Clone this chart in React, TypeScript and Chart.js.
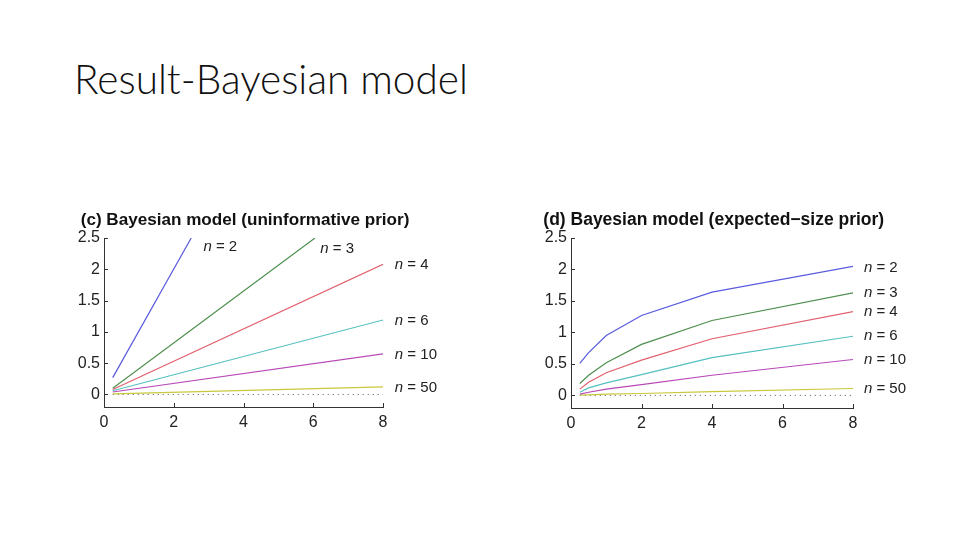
import React, { useRef, useEffect } from 'react';
import { Chart, registerables } from 'chart.js';

Chart.register(...registerables);

// shared axis ticks and curve labels
const X_TICKS = [0, 2, 4, 6, 8];
const Y_TICKS = [0, 0.5, 1, 1.5, 2, 2.5];
const N_VALUES = ['2', '3', '4', '6', '10', '50'];
const LINE_COLORS = ['#5a5ae0', '#4f8f4f', '#e2606e', '#55c0c0', '#b848b8', '#c8c83c'];
const ZERO_LINE = [[0.25, 0], [8, 0]];

// (c) uninformative prior: straight lines, the steep ones leave through the top
const C_N2 = [[0.25, 0.27], [2.5, 2.5]];
const C_N3 = [[0.25, 0.1], [6.05, 2.5]];
const C_N4 = [[0.25, 0.08], [8, 2.08]];
const C_N6 = [[0.25, 0.06], [8, 1.19]];
const C_N10 = [[0.25, 0.04], [8, 0.65]];
const C_N50 = [[0.25, 0.01], [8, 0.12]];
const C_LABEL_X = [2.85, 6.2, 8.34, 8.34, 8.34, 8.34];
const C_LABEL_Y = [2.36, 2.32, 2.07, 1.18, 0.63, 0.11];

// (d) expected-size prior
const D_X = [0.25, 0.5, 1, 2, 4, 8];
const D_N2 = [0.51, 0.68, 0.95, 1.27, 1.64, 2.05];
const D_N3 = [0.19, 0.32, 0.52, 0.81, 1.19, 1.63];
const D_N4 = [0.1, 0.21, 0.36, 0.56, 0.9, 1.33];
const D_N6 = [0.05, 0.12, 0.2, 0.33, 0.6, 0.94];
const D_N10 = [0.02, 0.05, 0.1, 0.17, 0.32, 0.57];
const D_N50 = [0.005, 0.01, 0.02, 0.03, 0.06, 0.11];
const D_LABEL_X = [8.31, 8.31, 8.31, 8.31, 8.31, 8.31];
const D_LABEL_Y = [2.03, 1.63, 1.33, 0.94, 0.56, 0.1];

const FONT = '"Liberation Sans", Arial, sans-serif';

const zip = (xs, ys) => xs.map((x, i) => [x, ys[i]]);

const BayesPlot = ({ title, titleX, titleSize, series, labelX, labelY, left, top, width, height, yWidth, xHeight, padRight }) => {
    const canvasRef = useRef(null);

    useEffect(() => {
        const ctx = canvasRef.current?.getContext('2d');
        if (!ctx) return;

        const datasets = series.map((pts, i) => ({
            data: pts.map(([x, y]) => ({ x, y })),
            borderColor: LINE_COLORS[i],
            borderWidth: 1.2,
            pointRadius: 0,
            fill: false,
            tension: 0,
        }));
        datasets.push({
            data: ZERO_LINE.map(([x, y]) => ({ x, y })),
            borderColor: '#555',
            borderWidth: 1,
            borderDash: [1, 4],
            pointRadius: 0,
            fill: false,
        });

        // panel title, MATLAB style inward ticks and the "n = .." labels
        const decor = {
            id: 'decor',
            afterDatasetsDraw(chart) {
                const { ctx: c, scales: { x, y }, chartArea } = chart;
                c.save();
                c.strokeStyle = '#333';
                c.lineWidth = 1;
                c.beginPath();
                X_TICKS.forEach(v => {
                    const px = Math.round(x.getPixelForValue(v)) + 0.5;
                    c.moveTo(px, chartArea.bottom);
                    c.lineTo(px, chartArea.bottom - 4);
                });
                Y_TICKS.forEach(v => {
                    const py = Math.round(y.getPixelForValue(v)) + 0.5;
                    c.moveTo(chartArea.left, py);
                    c.lineTo(chartArea.left + 4, py);
                });
                c.stroke();

                c.fillStyle = '#111';
                c.textBaseline = 'middle';
                c.textAlign = 'left';
                c.font = `bold ${titleSize}px ${FONT}`;
                c.fillText(title, titleX, 25);

                c.fillStyle = '#222';
                N_VALUES.forEach((n, i) => {
                    const px = x.getPixelForValue(labelX[i]);
                    const py = y.getPixelForValue(labelY[i]);
                    c.font = `italic 15px ${FONT}`;
                    c.fillText('n', px, py);
                    const w = c.measureText('n').width;
                    c.font = `15px ${FONT}`;
                    c.fillText(` = ${n}`, px + w, py);
                });
                c.restore();
            },
        };

        const chart = new Chart(ctx, {
            type: 'line',
            data: { datasets },
            plugins: [decor],
            options: {
                animation: false,
                responsive: false,
                layout: { padding: { left: 0, right: padRight, top: 43, bottom: 0 } },
                plugins: {
                    legend: { display: false },
                    tooltip: { enabled: false },
                    title: { display: false },
                },
                scales: {
                    x: {
                        type: 'linear',
                        min: 0,
                        max: 8,
                        afterBuildTicks: s => { s.ticks = X_TICKS.map(value => ({ value })); },
                        afterFit: s => { s.height = xHeight; },
                        ticks: {
                            color: '#222',
                            font: { family: FONT, size: 16 },
                            padding: 6,
                            maxRotation: 0,
                            autoSkip: false,
                            callback: v => String(v),
                        },
                        grid: { display: true, drawOnChartArea: false, drawTicks: false },
                        border: { display: true, color: '#333', width: 1 },
                    },
                    y: {
                        type: 'linear',
                        min: -0.2,
                        max: 2.5,
                        afterBuildTicks: s => { s.ticks = Y_TICKS.map(value => ({ value })); },
                        afterFit: s => { s.width = yWidth; },
                        ticks: {
                            color: '#222',
                            font: { family: FONT, size: 16 },
                            padding: 4,
                            autoSkip: false,
                            callback: v => String(v),
                        },
                        grid: { display: true, drawOnChartArea: false, drawTicks: false },
                        border: { display: true, color: '#333', width: 1 },
                    },
                },
            },
        });

        return () => chart.destroy();
    }, []);

    return (
        <canvas
            ref={canvasRef}
            width={width}
            height={height}
            style={{ position: 'absolute', left, top, width, height }}
        />
    );
};

export default function App() {
    return (
        <div style={{ position: 'absolute', left: 0, top: 0, width: 960, height: 540, background: '#fff', overflow: 'hidden' }}>
            <div
                style={{
                    position: 'absolute',
                    left: 74,
                    top: 59,
                    fontFamily: 'Lato, "Open Sans", sans-serif',
                    fontWeight: 300,
                    fontSize: 40.5,
                    lineHeight: 1,
                    color: '#111',
                    whiteSpace: 'nowrap',
                }}
            >
                Result-Bayesian model
            </div>
            <BayesPlot
                title="(c) Bayesian model (uninformative prior)"
                titleX={20.7}
                titleSize={17.1}
                series={[C_N2, C_N3, C_N4, C_N6, C_N10, C_N50]}
                labelX={C_LABEL_X}
                labelY={C_LABEL_Y}
                left={60}
                top={195}
                width={400}
                height={245}
                yWidth={44}
                xHeight={33}
                padRight={77}
            />
            <BayesPlot
                title="(d) Bayesian model (expected−size prior)"
                titleX={16.3}
                titleSize={17.5}
                series={[D_N2, D_N3, D_N4, D_N6, D_N10, D_N50].map(ys => zip(D_X, ys))}
                labelX={D_LABEL_X}
                labelY={D_LABEL_Y}
                left={527}
                top={195}
                width={420}
                height={245}
                yWidth={44}
                xHeight={32}
                padRight={94}
            />
        </div>
    );
}
